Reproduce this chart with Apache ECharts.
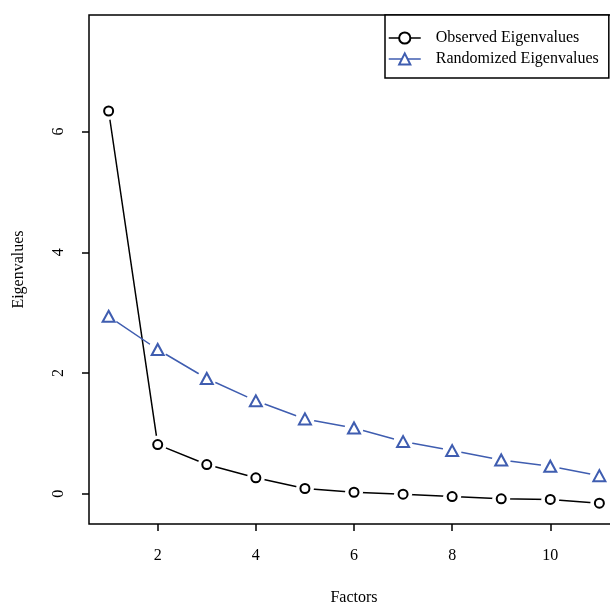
<!DOCTYPE html>
<html>
<head>
<meta charset="utf-8">
<script src="https://cdn.jsdelivr.net/npm/echarts@6/dist/echarts.min.js"></script>
<style>html,body{margin:0;padding:0;background:#fff;}#c{width:610px;height:604px;}</style>
</head>
<body>
<div id="c"></div>
<script>
var factors = [1, 2, 3, 4, 5, 6, 7, 8, 9, 10, 11];
var observed = [6.34, 0.815, 0.485, 0.265, 0.088, 0.026, -0.006, -0.045, -0.083, -0.094, -0.155];
var randomized = [2.94, 2.39, 1.91, 1.54, 1.24, 1.09, 0.865, 0.716, 0.56, 0.457, 0.30];
var xTicks = [2, 4, 6, 8, 10];
var yTicks = [0, 2, 4, 6];

var FONT = '"Liberation Serif", "DejaVu Serif", serif';
var BLUE = '#3f5db0';
function pairs(v) { return factors.map(function (f, i) { return [f, v[i]]; }); }

var chart = echarts.init(document.getElementById('c'), null, { renderer: 'canvas' });
function layers(name, vals, color, symbol, size, gapSize) {
  return [
    { name: name + ' line', type: 'line', data: pairs(vals), showSymbol: false, silent: true,
      lineStyle: { color: color, width: 1.5 }, z: 2 },
    { name: name + ' gap', type: 'line', data: pairs(vals), symbol: 'circle', symbolSize: gapSize, silent: true,
      itemStyle: { color: '#fff' }, lineStyle: { width: 0, opacity: 0 }, z: 3 },
    { name: name, type: 'line', data: pairs(vals), symbol: symbol, symbolSize: size,
      itemStyle: { color: color, borderColor: color, borderWidth: 1.5 },
      lineStyle: { color: color, width: 1.5, opacity: 0 }, z: 4 }
  ];
}
var series = [].concat(
  layers('Observed Eigenvalues', observed, '#000', 'emptyCircle', 9, 18),
  layers('Randomized Eigenvalues', randomized, BLUE, 'emptyTriangle', [12, 11], 19)
);
chart.setOption({
  animation: false,
  backgroundColor: '#fff',
  textStyle: { fontFamily: FONT },
  grid: { left: 89, top: 15, width: 530, height: 509, outerBoundsMode: 'none', containLabel: false,
    show: true, borderColor: '#000', borderWidth: 1.5, backgroundColor: 'transparent' },
  legend: {
    left: 385, top: 15, orient: 'vertical',
    padding: [14, 10, 10, 3],
    borderColor: '#000', borderWidth: 1.5, backgroundColor: '#fff',
    itemWidth: 32, itemHeight: 14, itemGap: 3,
    textStyle: { fontFamily: FONT, fontSize: 16, color: '#000', lineHeight: 18, padding: [0, 0, 0, 10] },
    data: [
      { name: 'Observed Eigenvalues', lineStyle: { color: '#000', width: 1.5, opacity: 1 } },
      { name: 'Randomized Eigenvalues', lineStyle: { color: BLUE, width: 1.5, opacity: 1 } }
    ]
  },
  xAxis: {
    type: 'value', min: 0.6, max: 11.4,
    name: 'Factors', nameLocation: 'middle', nameGap: 66,
    nameTextStyle: { fontFamily: FONT, fontSize: 16, color: '#000' },
    axisLine: { show: false, onZero: false },
    axisTick: { show: true, length: 7, customValues: xTicks, lineStyle: { color: '#000', width: 1.5 } },
    axisLabel: { customValues: xTicks, margin: 24, fontFamily: FONT, fontSize: 16, color: '#000' },
    splitLine: { show: false }
  },
  yAxis: {
    type: 'value', min: -0.5, max: 7.93,
    name: 'Eigenvalues', nameLocation: 'middle', nameGap: 62, nameRotate: 90,
    nameTextStyle: { fontFamily: FONT, fontSize: 16, color: '#000' },
    axisLine: { show: false, onZero: false },
    axisTick: { show: true, length: 7, customValues: yTicks, lineStyle: { color: '#000', width: 1.5 } },
    axisLabel: { customValues: yTicks, rotate: 90, margin: 22, fontFamily: FONT, fontSize: 16, color: '#000' },
    splitLine: { show: false }
  },
  series: series
});
</script>
</body>
</html>
